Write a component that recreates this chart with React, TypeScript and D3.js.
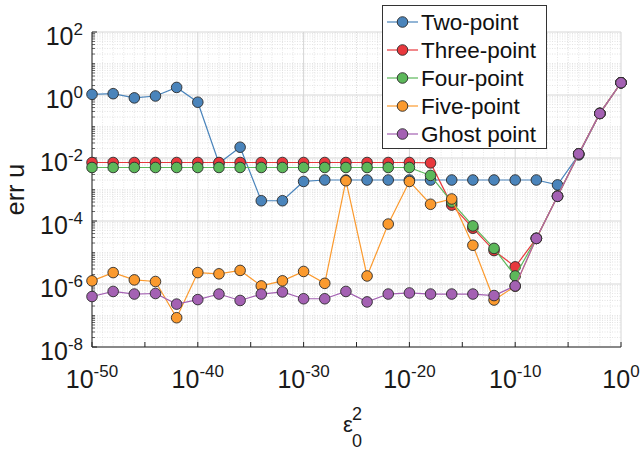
import React, { useRef, useEffect } from 'react';
import * as d3 from 'd3';

// x positions are eps_0^2 = 10^exp
const epsExp = [-50, -48, -46, -44, -42, -40, -38, -36, -34, -32, -30, -28, -26, -24, -22, -20, -18, -16, -14, -12, -10, -8, -6, -4, -2, 0];

const twoPoint = [1.05, 1.1, 0.81, 0.93, 1.74, 0.59, 6.8e-3, 2.2e-2, 4.4e-4, 4.4e-4, 1.8e-3, 2.0e-3, 2.0e-3, 2.0e-3, 2.0e-3, 2.0e-3, 2.0e-3, 2.0e-3, 2.0e-3, 2.0e-3, 2.0e-3, 2.0e-3, 1.4e-3, 1.25e-2, 0.26, 2.45];
const threePoint = [7.2e-3, 7.2e-3, 7.2e-3, 7.2e-3, 7.2e-3, 7.2e-3, 7.2e-3, 7.2e-3, 7.2e-3, 7.2e-3, 7.2e-3, 7.2e-3, 7.2e-3, 7.2e-3, 7.2e-3, 7.2e-3, 7.0e-3, 3.2e-4, 5.9e-5, 1.15e-5, 3.5e-6, 2.8e-5, 6.1e-4, 1.35e-2, 0.26, 2.45];
const fourPoint = [5e-3, 5e-3, 5e-3, 5e-3, 5e-3, 5e-3, 5e-3, 5e-3, 5e-3, 5e-3, 5e-3, 5e-3, 5e-3, 5e-3, 5e-3, 5e-3, 2.8e-3, 4e-4, 7e-5, 1.35e-5, 1.8e-6, 2.8e-5, 6.1e-4, 1.35e-2, 0.26, 2.45];
const fivePoint = [1.26e-6, 2.3e-6, 1.35e-6, 1.2e-6, 8.5e-8, 2.3e-6, 2.1e-6, 2.7e-6, 8.7e-7, 1.26e-6, 2.5e-6, 1.05e-6, 1.9e-3, 1.8e-6, 8e-5, 1.8e-3, 3.4e-4, 5e-4, 1.7e-5, 3.1e-7, 8.5e-7, 2.8e-5, 6.1e-4, 1.35e-2, 0.26, 2.45];
const ghostPoint = [4e-7, 5.8e-7, 4.8e-7, 5e-7, 2.3e-7, 3.2e-7, 4.8e-7, 3e-7, 4.8e-7, 5.6e-7, 3.4e-7, 3.4e-7, 5.8e-7, 2.7e-7, 4.8e-7, 5.2e-7, 4.8e-7, 4.8e-7, 4.8e-7, 4.3e-7, 8.7e-7, 2.8e-5, 6.1e-4, 1.35e-2, 0.26, 2.45];

const seriesNames = ['Two-point', 'Three-point', 'Four-point', 'Five-point', 'Ghost point'];
const seriesValues = [twoPoint, threePoint, fourPoint, fivePoint, ghostPoint];
const colors = ['#4a84bb', '#e8383d', '#5cb85a', '#fb9a2e', '#a461b3'];

const xTickExp = [-50, -40, -30, -20, -10, 0];
const yTickExp = [-8, -6, -4, -2, 0, 2];

const FONT = 'Liberation Sans, Arial, Helvetica, sans-serif';

const App = () => {
  const ref = useRef<SVGSVGElement>(null);

  useEffect(() => {
    const svg = d3.select(ref.current);
    svg.selectAll('*').remove();

    const left = 92, right = 621, top = 32, bottom = 347;

    const x = d3.scaleLog().domain([1e-50, 1]).range([left, right]);
    const y = d3.scaleLog().domain([1e-8, 1e2]).range([bottom, top]);

    const g = svg.append('g');

    // minor grid: every decade in x, 1..9 x 10^k in y
    const xMinor = d3.range(-50, 1).filter(e => e % 10 !== 0);
    g.selectAll('.xminor')
      .data(xMinor)
      .join('line')
      .attr('x1', d => x(Math.pow(10, d)))
      .attr('x2', d => x(Math.pow(10, d)))
      .attr('y1', top).attr('y2', bottom)
      .attr('stroke', d => (d % 5 === 0 ? '#cfcfcf' : '#e0e0e0'))
      .attr('stroke-width', 0.8)
      .attr('stroke-dasharray', '1,1.5');

    const yMinor: number[] = [];
    for (let k = -8; k < 2; k++) {
      for (let j = 1; j <= 9; j++) {
        if (j === 1 && k % 2 === 0) continue;
        yMinor.push(j * Math.pow(10, k));
      }
    }
    g.selectAll('.yminor')
      .data(yMinor)
      .join('line')
      .attr('x1', left).attr('x2', right)
      .attr('y1', d => y(d)).attr('y2', d => y(d))
      .attr('stroke', '#dcdcdc')
      .attr('stroke-width', 0.8)
      .attr('stroke-dasharray', '1,1.5');

    // major grid
    g.selectAll('.xmajor')
      .data(xTickExp)
      .join('line')
      .attr('x1', d => x(Math.pow(10, d)))
      .attr('x2', d => x(Math.pow(10, d)))
      .attr('y1', top).attr('y2', bottom)
      .attr('stroke', '#d6d6d6')
      .attr('stroke-width', 1);
    g.selectAll('.ymajor')
      .data(yTickExp)
      .join('line')
      .attr('x1', left).attr('x2', right)
      .attr('y1', d => y(Math.pow(10, d))).attr('y2', d => y(Math.pow(10, d)))
      .attr('stroke', '#d6d6d6')
      .attr('stroke-width', 1);

    // axes lines + inward ticks
    const axisColor = '#262626';
    g.append('line').attr('x1', left).attr('x2', left).attr('y1', top).attr('y2', bottom)
      .attr('stroke', axisColor).attr('stroke-width', 1);
    g.append('line').attr('x1', left).attr('x2', right).attr('y1', bottom).attr('y2', bottom)
      .attr('stroke', axisColor).attr('stroke-width', 1);

    g.selectAll('.ytickmaj')
      .data(yTickExp)
      .join('line')
      .attr('x1', left).attr('x2', left + 5)
      .attr('y1', d => y(Math.pow(10, d))).attr('y2', d => y(Math.pow(10, d)))
      .attr('stroke', axisColor);
    g.selectAll('.ytickmin')
      .data(yMinor)
      .join('line')
      .attr('x1', left).attr('x2', left + 3)
      .attr('y1', d => y(d)).attr('y2', d => y(d))
      .attr('stroke', axisColor).attr('stroke-width', 0.7);
    g.selectAll('.xtick')
      .data(d3.range(-50, 1, 5))
      .join('line')
      .attr('x1', d => x(Math.pow(10, d))).attr('x2', d => x(Math.pow(10, d)))
      .attr('y1', bottom).attr('y2', bottom - 5)
      .attr('stroke', axisColor);

    // tick labels
    const yl = g.selectAll('.ylab')
      .data(yTickExp)
      .join('text')
      .attr('x', left - 9)
      .attr('y', d => y(Math.pow(10, d)) + 13)
      .attr('text-anchor', 'end')
      .attr('font-family', FONT)
      .attr('fill', '#1a1a1a');
    yl.append('tspan').attr('font-size', 25).text('10');
    yl.append('tspan').attr('font-size', 17).attr('dy', -10).text(d => String(d));

    const xl = g.selectAll('.xlab')
      .data(xTickExp)
      .join('text')
      .attr('x', d => x(Math.pow(10, d)))
      .attr('y', bottom + 41)
      .attr('text-anchor', 'middle')
      .attr('font-family', FONT)
      .attr('fill', '#1a1a1a');
    xl.append('tspan').attr('font-size', 25).text('10');
    xl.append('tspan').attr('font-size', 17).attr('dy', -11).text(d => String(d));

    // axis titles
    svg.append('text')
      .attr('transform', `translate(24,${(top + bottom) / 2}) rotate(-90)`)
      .attr('text-anchor', 'middle')
      .attr('font-family', FONT)
      .attr('font-size', 25)
      .attr('fill', '#1a1a1a')
      .text('err u');

    const xt = svg.append('g').attr('font-family', FONT).attr('fill', '#1a1a1a');
    xt.append('text').attr('x', 343).attr('y', 432).attr('font-size', 22).text('ε');
    xt.append('text').attr('x', 352).attr('y', 420).attr('font-size', 18).text('2');
    xt.append('text').attr('x', 352).attr('y', 447).attr('font-size', 18).text('0');

    // series
    const line = d3.line<number>()
      .x((_, i) => x(Math.pow(10, epsExp[i])))
      .y(d => y(d));

    seriesValues.forEach((vals, s) => {
      const sg = g.append('g');
      sg.append('path')
        .datum(vals)
        .attr('fill', 'none')
        .attr('stroke', colors[s])
        .attr('stroke-width', 1.2)
        .attr('d', line);
      sg.selectAll('circle')
        .data(vals)
        .join('circle')
        .attr('cx', (_, i) => x(Math.pow(10, epsExp[i])))
        .attr('cy', d => y(d))
        .attr('r', 5.3)
        .attr('fill', colors[s])
        .attr('stroke', '#2b2b2b')
        .attr('stroke-width', 0.9);
    });

    // legend
    const lg = svg.append('g');
    lg.append('rect')
      .attr('x', 382.5).attr('y', 5.5)
      .attr('width', 164).attr('height', 143)
      .attr('fill', '#fff')
      .attr('stroke', '#333')
      .attr('stroke-width', 1);
    const rowY = d3.scaleLinear().domain([0, 4]).range([22, 134]);
    seriesNames.forEach((name, s) => {
      const ry = rowY(s);
      lg.append('line').attr('x1', 387).attr('x2', 418).attr('y1', ry).attr('y2', ry)
        .attr('stroke', colors[s]).attr('stroke-width', 1.2);
      lg.append('circle').attr('cx', 402.5).attr('cy', ry).attr('r', 5.3)
        .attr('fill', colors[s]).attr('stroke', '#2b2b2b').attr('stroke-width', 0.9);
      lg.append('text').attr('x', 421).attr('y', ry + 8)
        .attr('font-family', FONT).attr('font-size', 22.5).attr('fill', '#111')
        .text(name);
    });
  }, []);

  return (
    <svg ref={ref} width={642} height={450}
      style={{ position: 'absolute', left: 0, top: 0, background: '#fff' }} />
  );
};

export default App;
